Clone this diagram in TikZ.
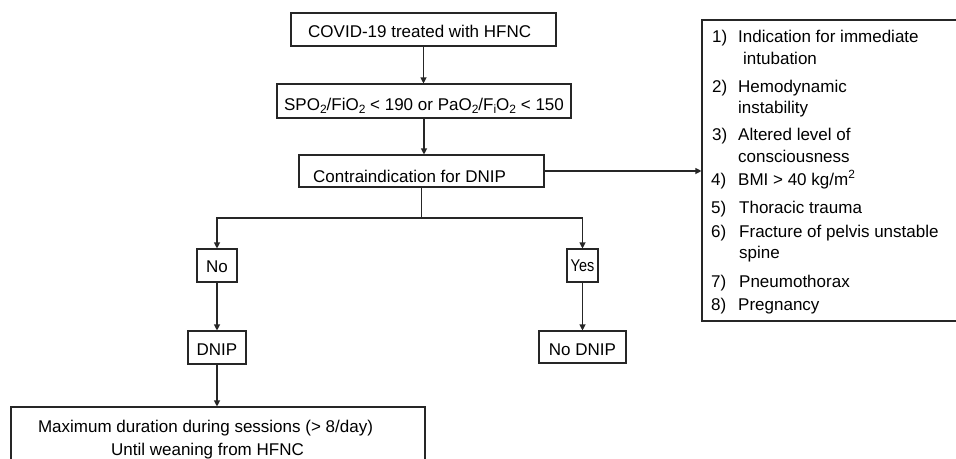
\documentclass[tikz,border=0pt]{standalone}
\usepackage{fontspec}
\usepackage{graphicx}
\setmainfont{Liberation Sans}
\usetikzlibrary{arrows.meta}
\begin{document}
\begin{tikzpicture}[x=1pt,y=-1pt,
  every node/.style={font=\fontsize{17}{22}\selectfont},
  box/.style={draw=black!85, line width=1.1pt, inner sep=0pt},
  link/.style={draw=black!85, line width=1.1pt, -{Triangle[length=6pt,width=6pt]}},
  plain/.style={draw=black!85, line width=1.1pt},
  txt/.style={inner sep=0pt, anchor=base west},
  ctxt/.style={inner sep=0pt, anchor=base},
  sub/.style={}]
\newcommand{\lowsub}[1]{\raisebox{-0.38ex}{\fontsize{12}{12}\selectfont #1}}
\useasboundingbox (0,0) rectangle (956,458);
\clip (0,0) rectangle (956,458);

% main column
\node[box, minimum width=265pt, minimum height=33pt] (start) at (423.5,29.5) {};
\node[txt] (startlbl) at (308,37) {COVID-19 treated with HFNC};

\node[box, minimum width=294pt, minimum height=34pt] (ratio) at (424,101) {};
\node[ctxt] (ratiolbl) at (424,110)
  {SPO\lowsub{2}/FiO\lowsub{2} < 190 or PaO\lowsub{2}/F\lowsub{i}O\lowsub{2} < 150};

\node[box, minimum width=245pt, minimum height=32pt] (contra) at (421.5,171) {};
\node[txt] (contralbl) at (313,182) {Contraindication for DNIP};

% branches
\coordinate (split) at (421.5,218);
\node[box, minimum width=40pt, minimum height=33pt] (no) at (217,265.5) {};
\node[ctxt] (nolbl) at (217,272.5) {No};
\node[box, minimum width=31pt, minimum height=33pt] (yes) at (582.5,265.5) {};
\node[ctxt] (yeslbl) at (582.5,271.5) {\scalebox{0.85}[1]{Yes}};

\node[box, minimum width=58pt, minimum height=33pt] (dnip) at (217,347.5) {};
\node[ctxt] (dniplbl) at (217,355) {DNIP};
\node[box, minimum width=87pt, minimum height=32pt] (nodnip) at (582.5,347) {};
\node[ctxt] (nodniplbl) at (582.5,355) {No DNIP};

\node[box, minimum width=414pt, minimum height=70pt] (final) at (218,442) {};
\node[ctxt] (finala) at (205.5,432) {Maximum duration during sessions (> 8/day)};
\node[ctxt] (finalb) at (207.5,455) {Until weaning from HFNC};

% contraindication list (box runs on past the right margin)
\node[box, minimum width=400pt, minimum height=301pt] (crit) at (902,170.5) {};
\node[txt] (n1) at (712,42)  {1)};
\node[txt] (t1) at (738,42)  {Indication for immediate};
\node[txt] (t1b) at (743,64) {intubation};
\node[txt] (n2) at (712,92)  {2)};
\node[txt] (t2) at (738,92)  {Hemodynamic};
\node[txt] (t2b) at (738,113) {instability};
\node[txt] (n3) at (712,140) {3)};
\node[txt] (t3) at (738,140) {Altered level of};
\node[txt] (t3b) at (738,162) {consciousness};
\node[txt] (n4) at (711,185) {4)};
\node[txt] (t4) at (738,185) {BMI > 40 kg/m\textsuperscript{2}};
\node[txt] (n5) at (711,213) {5)};
\node[txt] (t5) at (739,213) {Thoracic trauma};
\node[txt] (n6) at (711,237) {6)};
\node[txt] (t6) at (739,237) {Fracture of pelvis unstable};
\node[txt] (t6b) at (739,258) {spine};
\node[txt] (n7) at (711,287) {7)};
\node[txt] (t7) at (739,287) {Pneumothorax};
\node[txt] (n8) at (711,310) {8)};
\node[txt] (t8) at (738,310) {Pregnancy};

% connectors
\draw[link] (start.south) -- (start.south |- ratio.north);
\draw[link] (ratio.south) -- (ratio.south |- contra.north);
\draw[link] (contra.east) -- (contra.east -| crit.west);
\draw[plain] (contra.south) -- (split);
\draw[link] (split) -| (no.north);
\draw[link] (split) -| (yes.north);
\draw[link] (no.south) -- (dnip.north);
\draw[link] (yes.south) -- (nodnip.north);
\draw[link] (dnip.south) -- (dnip.south |- final.north);
\end{tikzpicture}
\end{document}
